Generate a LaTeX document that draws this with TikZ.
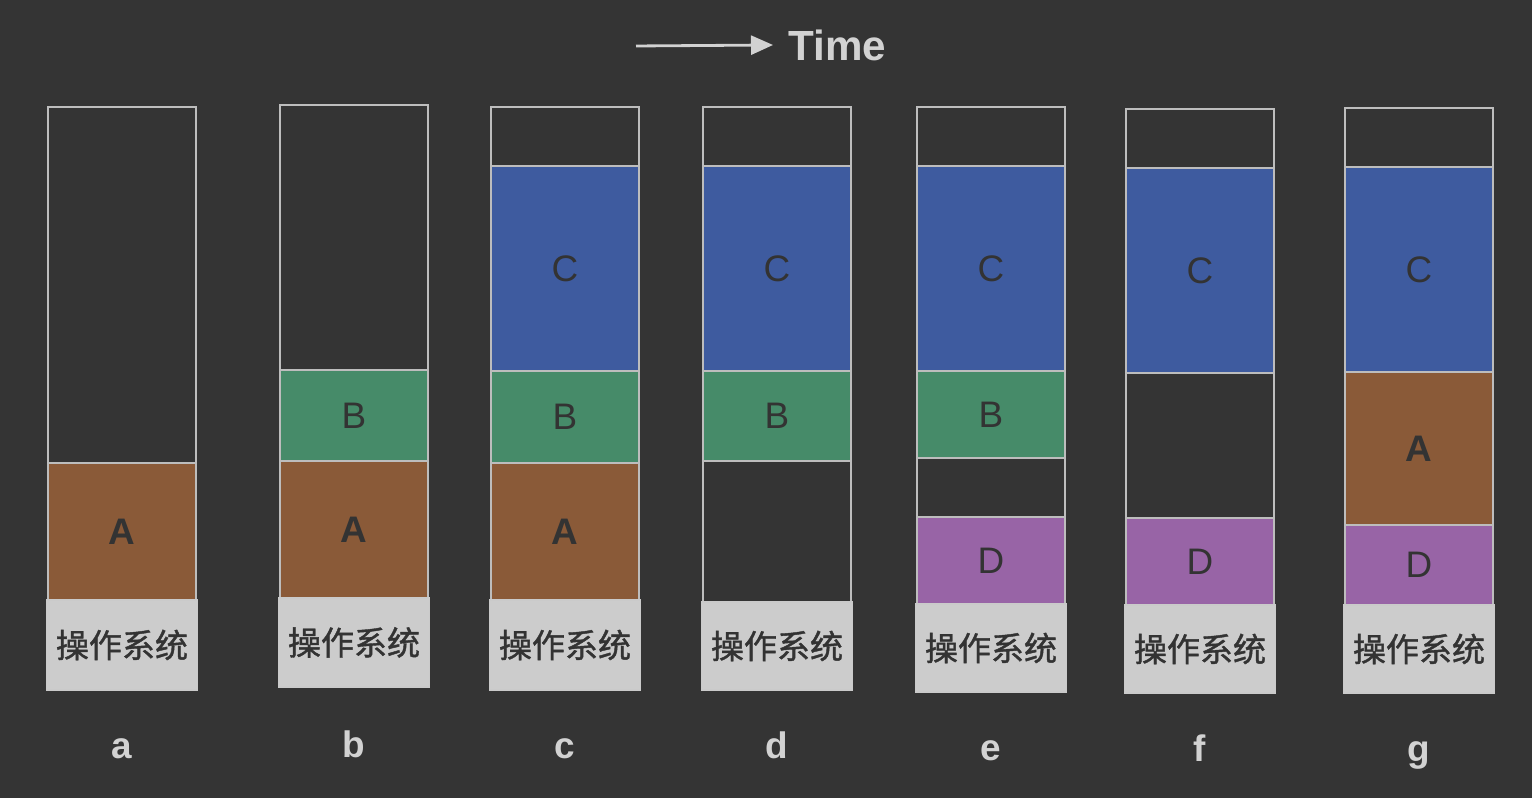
\documentclass[tikz,border=0pt]{standalone}
\usepackage{fontspec}
\setmainfont{Liberation Sans}
\newfontfamily\cjk[FakeBold=1.2]{Noto Sans CJK SC}
\usetikzlibrary{arrows.meta,positioning}

\definecolor{bgdark}{HTML}{343434}
\definecolor{memedge}{HTML}{BDBDBD}
\definecolor{procA}{HTML}{8A5A38}
\definecolor{procB}{HTML}{468B69}
\definecolor{procC}{HTML}{3E5B9F}
\definecolor{procD}{HTML}{9864A6}
\definecolor{osgray}{HTML}{CCCCCC}
\definecolor{inktext}{HTML}{333333}
\definecolor{lighttext}{HTML}{D2D2D2}

\begin{document}
\begin{tikzpicture}[
  x=1cm, y=1cm,
  seg/.style={draw=memedge, line width=0.5pt, minimum width=1.48cm, inner sep=0pt, outer sep=0pt,
              font=\fontsize{10.5}{12}\selectfont, text=inktext},
  free/.style={seg, fill=bgdark},
  pa/.style={seg, fill=procA, font=\fontsize{10.5}{12}\selectfont\bfseries},
  pb/.style={seg, fill=procB},
  pc/.style={seg, fill=procC},
  pd/.style={seg, fill=procD},
  os/.style={draw=memedge!80, line width=0.4pt, fill=osgray, minimum width=1.51cm, minimum height=0.88cm,
             inner sep=0pt, outer sep=0pt, font=\cjk\fontsize{9.4}{11}\selectfont, text=inktext},
  step label/.style={font=\fontsize{10.5}{12}\selectfont\bfseries, text=lighttext, inner sep=0pt,
             text height=1.2ex, text depth=0pt},
  timearrow/.style={-{Triangle[length=2.2mm, width=1.9mm]}, line width=0.8pt, draw=lighttext}
]
\fill[bgdark] (0,0) rectangle (15.32,-7.98);
\useasboundingbox (0,0) rectangle (15.32,-7.98);

% time axis
\coordinate (t0) at (6.36,-0.46);
\node[anchor=west, font=\fontsize{12}{14}\selectfont\bfseries, text=lighttext, inner sep=0pt] (time) at (7.88,-0.45) {Time};
\draw[timearrow] (t0) -- ([xshift=-1.5mm]time.west);

% a
\node[free, anchor=north west, minimum height=3.56cm] (a-free) at (0.48,-1.07) {};
\node[pa, minimum height=1.37cm, below=0pt of a-free] (a-A) {A};
\node[os, minimum height=0.90cm, below=0pt of a-A] (a-os) {操作系统};
\node[step label, below=4.6mm of a-os] (a) {a};

% b
\node[free, anchor=north west, minimum height=2.65cm] (b-free) at (2.80,-1.05) {};
\node[pb, minimum height=0.91cm, below=0pt of b-free] (b-B) {B};
\node[pa, minimum height=1.37cm, below=0pt of b-B] (b-A) {A};
\node[os, minimum height=0.89cm, below=0pt of b-A] (b-os) {操作系统};
\node[step label, below=4.8mm of b-os] (b) {b};

% c
\node[free, anchor=north west, minimum height=0.59cm] (c-free) at (4.91,-1.07) {};
\node[pc, minimum height=2.05cm, below=0pt of c-free] (c-C) {C};
\node[pb, minimum height=0.92cm, below=0pt of c-C] (c-B) {B};
\node[pa, minimum height=1.37cm, below=0pt of c-B] (c-A) {A};
\node[os, minimum height=0.90cm, below=0pt of c-A] (c-os) {操作系统};
\node[step label, below=4.6mm of c-os] (c) {c};

% d
\node[free, anchor=north west, minimum height=0.59cm] (d-free) at (7.03,-1.07) {};
\node[pc, minimum height=2.05cm, below=0pt of d-free] (d-C) {C};
\node[pb, minimum height=0.90cm, below=0pt of d-C] (d-B) {B};
\node[free, minimum height=1.41cm, below=0pt of d-B] (d-gap) {};
\node[os, below=0pt of d-gap] (d-os) {操作系统};
\node[step label, below=4.6mm of d-os] (d) {d};

% e
\node[free, anchor=north west, minimum height=0.59cm] (e-free) at (9.17,-1.07) {};
\node[pc, minimum height=2.05cm, below=0pt of e-free] (e-C) {C};
\node[pb, minimum height=0.87cm, below=0pt of e-C] (e-B) {B};
\node[free, minimum height=0.59cm, below=0pt of e-B] (e-gap) {};
\node[pd, minimum height=0.87cm, below=0pt of e-gap] (e-D) {D};
\node[os, below=0pt of e-D] (e-os) {操作系统};
\node[step label, below=4.6mm of e-os] (e) {e};

% f
\node[free, anchor=north west, minimum height=0.59cm] (f-free) at (11.26,-1.09) {};
\node[pc, minimum height=2.05cm, below=0pt of f-free] (f-C) {C};
\node[free, minimum height=1.45cm, below=0pt of f-C] (f-gap) {};
\node[pd, minimum height=0.87cm, below=0pt of f-gap] (f-D) {D};
\node[os, below=0pt of f-D] (f-os) {操作系统};
\node[step label, below=4.6mm of f-os] (f) {f};

% g
\node[free, anchor=north west, minimum height=0.59cm] (g-free) at (13.45,-1.08) {};
\node[pc, minimum height=2.05cm, below=0pt of g-free] (g-C) {C};
\node[pa, minimum height=1.53cm, below=0pt of g-C] (g-A) {A};
\node[pd, minimum height=0.80cm, below=0pt of g-A] (g-D) {D};
\node[os, below=0pt of g-D] (g-os) {操作系统};
\node[step label, below=4.6mm of g-os] (g) {g};
\end{tikzpicture}
\end{document}
